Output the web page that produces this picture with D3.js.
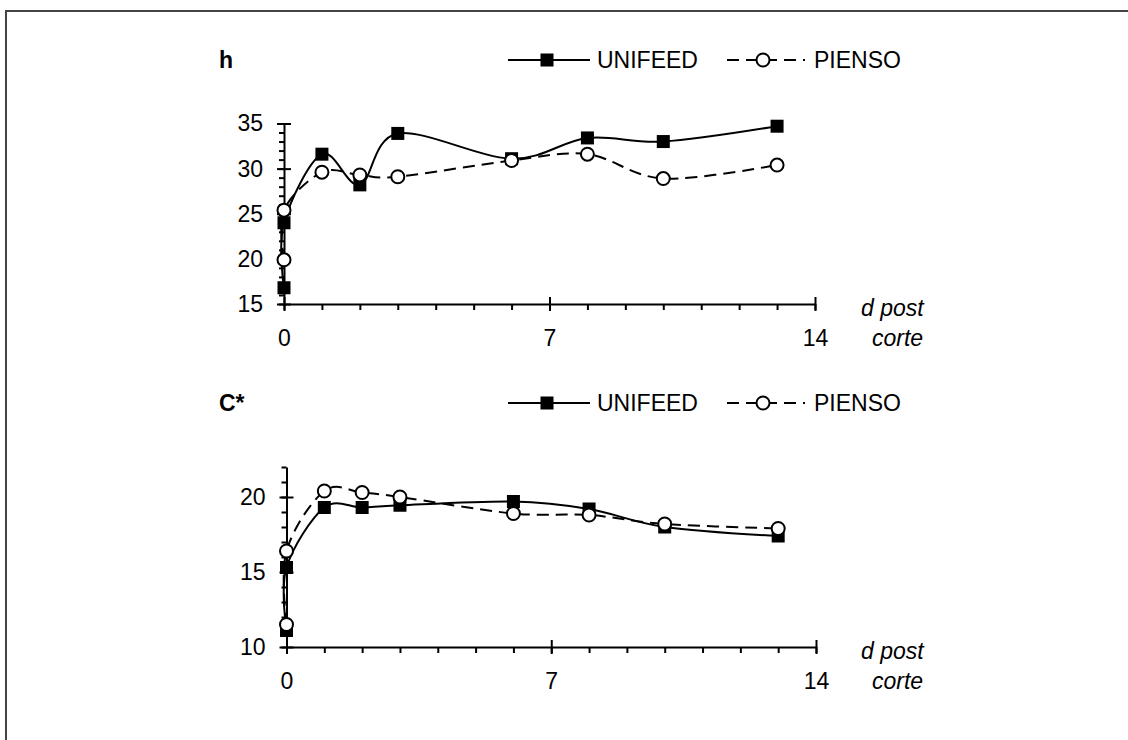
<!DOCTYPE html>
<html>
<head>
<meta charset="utf-8">
<script src="https://cdnjs.cloudflare.com/ajax/libs/d3/7.8.5/d3.min.js"></script>
<style>
  body { margin: 0; background: #fff; }
  svg text { font-family: "Liberation Sans", Arial, sans-serif; fill: #000; }
</style>
</head>
<body>
<svg id="chart" width="1128" height="740"></svg>
<script>
// days post slaughter (two readings on day 0)
var days = [0, 0, 1, 2, 3, 6, 8, 10, 13];

// hue angle h
var hUnifeed = [16.8, 24.0, 31.6, 28.2, 33.9, 31.1, 33.4, 33.0, 34.7];
var hPienso  = [19.9, 25.4, 29.6, 29.3, 29.1, 30.9, 31.6, 28.9, 30.4];

// chroma C*
var cUnifeed = [11.1, 15.3, 19.3, 19.3, 19.45, 19.7, 19.2, 18.0, 17.4];
var cPienso  = [11.5, 16.4, 20.4, 20.3, 20.0, 18.9, 18.8, 18.2, 17.9];

var xTicks = [0, 7, 14];
var hTicks = [15, 20, 25, 30, 35];
var cTicks = [10, 15, 20];
var seriesNames = ["UNIFEED", "PIENSO"];

var fontSize = 23;
var svg = d3.select("#chart");

// frame (only top and left edges visible)
svg.append("path")
    .attr("d", "M6,740V11H1128")
    .attr("fill", "none")
    .attr("stroke", "#444")
    .attr("stroke-width", 2);

function zip(xs, ys) {
    return xs.map(function(d, i) { return [d, ys[i]]; });
}

function drawPanel(opt) {
    var x = d3.scaleLinear().domain([0, 14]).range([opt.left, opt.right]);
    var y = d3.scaleLinear().domain(opt.yDomain).range([opt.bottom, opt.top]);
    var g = svg.append("g");

    // minor y ticks, every unit
    var yMinor = g.append("g")
        .attr("transform", "translate(" + opt.left + ",0)")
        .call(d3.axisLeft(y).ticks(opt.yDomain[1] - opt.yDomain[0]).tickSize(5).tickFormat(""));
    yMinor.select(".domain").remove();

    // minor x ticks, every day
    var xMinor = g.append("g")
        .attr("transform", "translate(0," + opt.bottom + ")")
        .call(d3.axisBottom(x).ticks(14).tickSize(6).tickFormat(""));
    xMinor.select(".domain").remove();

    // major y axis
    var yAxis = g.append("g")
        .attr("transform", "translate(" + opt.left + ",0)")
        .call(d3.axisLeft(y).tickValues(opt.yTicks).tickSize(7).tickSizeOuter(0).tickPadding(14));
    yAxis.selectAll(".tick line").attr("x1", 7);

    // major x axis
    var xAxis = g.append("g")
        .attr("transform", "translate(0," + opt.bottom + ")")
        .call(d3.axisBottom(x).tickValues(xTicks).tickSize(7).tickSizeOuter(0));
    xAxis.selectAll(".tick line").attr("y1", -7);
    xAxis.selectAll(".tick text").attr("y", 42).attr("dy", null);

    g.selectAll("path.domain, .tick line")
        .attr("stroke", "#000")
        .attr("stroke-width", 2);
    g.selectAll(".tick text")
        .attr("font-size", fontSize)
        .attr("font-family", "Liberation Sans, Arial, sans-serif");

    // axis title
    g.append("text")
        .attr("x", 861).attr("y", opt.bottom + 12)
        .attr("font-size", fontSize).attr("font-style", "italic")
        .text("d post");
    g.append("text")
        .attr("x", 872).attr("y", opt.bottom + 42)
        .attr("font-size", fontSize).attr("font-style", "italic")
        .text("corte");

    var line = d3.line()
        .x(function(d) { return x(d[0]); })
        .y(function(d) { return y(d[1]); })
        .curve(d3.curveCardinal.tension(0));

    var uni = zip(days, opt.unifeed);
    var pie = zip(days, opt.pienso);

    // UNIFEED: solid line, filled squares
    g.append("path")
        .datum(uni)
        .attr("d", line)
        .attr("fill", "none")
        .attr("stroke", "#000")
        .attr("stroke-width", 2);
    g.selectAll(".sq")
        .data(uni)
        .enter().append("rect")
        .attr("class", "sq")
        .attr("x", function(d) { return x(d[0]) - 6.5; })
        .attr("y", function(d) { return y(d[1]) - 6.5; })
        .attr("width", 13).attr("height", 13)
        .attr("fill", "#000");

    // PIENSO: dashed line, open circles
    g.append("path")
        .datum(pie)
        .attr("d", line)
        .attr("fill", "none")
        .attr("stroke", "#000")
        .attr("stroke-width", 2)
        .attr("stroke-dasharray", "12,7");
    g.selectAll(".ci")
        .data(pie)
        .enter().append("circle")
        .attr("class", "ci")
        .attr("cx", function(d) { return x(d[0]); })
        .attr("cy", function(d) { return y(d[1]); })
        .attr("r", 6.5)
        .attr("fill", "#fff")
        .attr("stroke", "#000")
        .attr("stroke-width", 2);

    // panel title and legend
    var ly = opt.legendY;
    g.append("text")
        .attr("x", 219).attr("y", ly + 8)
        .attr("font-size", fontSize).attr("font-weight", "bold")
        .text(opt.title);

    g.append("line")
        .attr("x1", 508).attr("x2", 590).attr("y1", ly).attr("y2", ly)
        .attr("stroke", "#000").attr("stroke-width", 2);
    g.append("rect")
        .attr("x", 540.5).attr("y", ly - 6.5).attr("width", 13).attr("height", 13)
        .attr("fill", "#000");
    g.append("text")
        .attr("x", 597).attr("y", ly + 8)
        .attr("font-size", fontSize)
        .text(seriesNames[0]);

    g.append("line")
        .attr("x1", 727).attr("x2", 805).attr("y1", ly).attr("y2", ly)
        .attr("stroke", "#000").attr("stroke-width", 2)
        .attr("stroke-dasharray", "12,7");
    g.append("circle")
        .attr("cx", 763).attr("cy", ly).attr("r", 6.5)
        .attr("fill", "#fff").attr("stroke", "#000").attr("stroke-width", 2);
    g.append("text")
        .attr("x", 814).attr("y", ly + 8)
        .attr("font-size", fontSize)
        .text(seriesNames[1]);
}

drawPanel({
    title: "h",
    legendY: 60,
    left: 284, right: 815,
    top: 123.5, bottom: 304,
    yDomain: [15, 35],
    yTicks: hTicks,
    unifeed: hUnifeed,
    pienso: hPienso
});

drawPanel({
    title: "C*",
    legendY: 403,
    left: 286.5, right: 816,
    top: 467, bottom: 647,
    yDomain: [10, 22],
    yTicks: cTicks,
    unifeed: cUnifeed,
    pienso: cPienso
});
</script>
</body>
</html>
